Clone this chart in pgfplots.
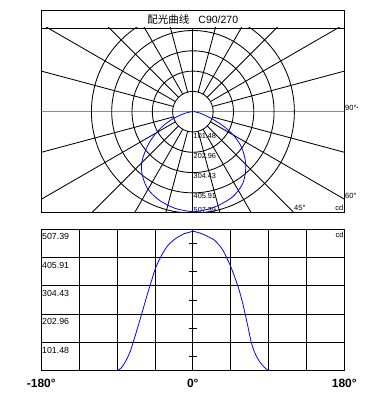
\documentclass[border=0pt]{standalone}
\usepackage{pgfplots}
\pgfplotsset{compat=1.18}
\usepackage{pgfplotstable}
\usepackage{fontspec}
\setmainfont{Liberation Sans}
\newfontfamily\cjk{Noto Sans CJK SC}

\pgfplotstableread{
a cd
-90 0
-85 10
-80 33
-75 64
-70 110
-65 160
-60 211
-55 264
-50 313
-45 362
-40 397
-35 425
-30 448
-25 463
-20 475
-15 484
-10 492
-5 496
0 500
5 497
10 492
15 486
20 478
25 470
30 455
35 436
40 407
45 374
50 334
55 290
60 233
65 165
70 96
75 55
80 30
85 12
90 0
}\data

\begin{document}
\begin{tikzpicture}
\useasboundingbox (0,0) rectangle (370pt,393pt);

% ---------- polar chart ----------
\begin{axis}[name=pa, at={(41.3pt,181pt)}, anchor=south west,
  scale only axis, width=303pt, height=184pt,
  xmin=-758, xmax=757, ymin=-501.5, ymax=418.5,
  xtick=\empty, ytick=\empty,
  axis line style={black, line width=0.9pt}]
  \draw[black!45, line width=0.9pt] (axis cs:-758,0) -- (axis cs:757,0);
  \draw[black, line width=0.85pt] (axis cs:0,-501.5) -- (axis cs:0,418.5);
  \pgfplotsinvokeforeach{101.48,202.96,304.43,405.91,507.39}{
    \draw[black, line width=0.85pt] (axis cs:0,0) circle[radius=#1];
  }
  \pgfplotsinvokeforeach{15,30,45,60,75,105,120,135,150,165,195,210,225,240,255,285,300,315,330,345}{
    \draw[black, line width=0.85pt] ([shift={(#1:20.296pt)}]axis cs:0,0) -- ([shift={(#1:400pt)}]axis cs:0,0);
  }
  \pgfplotsinvokeforeach{101.48,202.96,304.43,405.91}{
    \node[anchor=north west, inner sep=0pt, font=\fontsize{7.3}{8}\selectfont, xshift=0.6pt, yshift=-0.8pt] at (axis cs:0,-#1) {#1};
  }
  \node[anchor=north west, inner sep=0pt, font=\fontsize{7.3}{8}\selectfont, xshift=0.6pt, yshift=5.5pt] at (axis cs:0,-507.39) {507.39};
  \addplot[blue, line width=0.8pt, smooth, data cs=polar] table[x expr=\thisrow{a}-90, y=cd] {\data};
\end{axis}
\draw[black, line width=0.9pt] (pa.north west) rectangle ([yshift=17.3pt]pa.north east);
\node[inner sep=0pt] at ([yshift=8.65pt]pa.north) {\fontsize{10.5}{12}\selectfont{\cjk 配光曲线}\hspace{9pt}C90/270};

\node[anchor=west, inner sep=0pt, font=\fontsize{7.5}{9}\selectfont] at (345pt,285pt) {90°\raisebox{1pt}{\tiny •}};
\node[anchor=west, inner sep=0pt, font=\fontsize{7.5}{9}\selectfont] at (345pt,197pt) {60°};
\node[anchor=west, inner sep=0pt, font=\fontsize{7.5}{9}\selectfont] at (294pt,185pt) {45°};
\node[anchor=east, inner sep=0pt, font=\fontsize{7.5}{9}\selectfont] at (343.5pt,185pt) {cd};

% ---------- cartesian chart ----------
\begin{axis}[name=ca, at={(41.3pt,22.3pt)}, anchor=south west,
  scale only axis, width=303pt, height=141.4pt,
  xmin=-180, xmax=180, ymin=0, ymax=507.39,
  xtick={-180,-135,-90,-45,0,45,90,135,180},
  xticklabels={-180°,,,,0°,,,,180°},
  ytick={101.48,202.96,304.43,405.91,507.39},
  yticklabels={101.48,202.96,304.43,405.91,507.39},
  grid=major, major grid style={black, line width=0.85pt},
  major tick length=0pt,
  axis line style={black, line width=0.9pt},
  xticklabel style={font=\bfseries\fontsize{12}{14}\selectfont, anchor=north, inner sep=0pt, yshift=-8.3pt},
  yticklabel style={font=\fontsize{8.8}{10}\selectfont, anchor=north west, inner sep=0pt, xshift=0.7pt, yshift=-4.3pt}]
  \pgfplotsinvokeforeach{50.74,152.22,253.7,355.15,456.63}{
    \draw[black, line width=0.85pt] ([xshift=-4.2pt]axis cs:0,#1) -- ([xshift=4.2pt]axis cs:0,#1);
  }
  \addplot[blue, line width=0.8pt, smooth] table[x=a, y=cd] {\data};
\end{axis}
\node[anchor=north east, inner sep=0pt, font=\fontsize{7.5}{9}\selectfont] at ([xshift=-0.5pt, yshift=-2.5pt]ca.north east) {cd};
\end{tikzpicture}
\end{document}
